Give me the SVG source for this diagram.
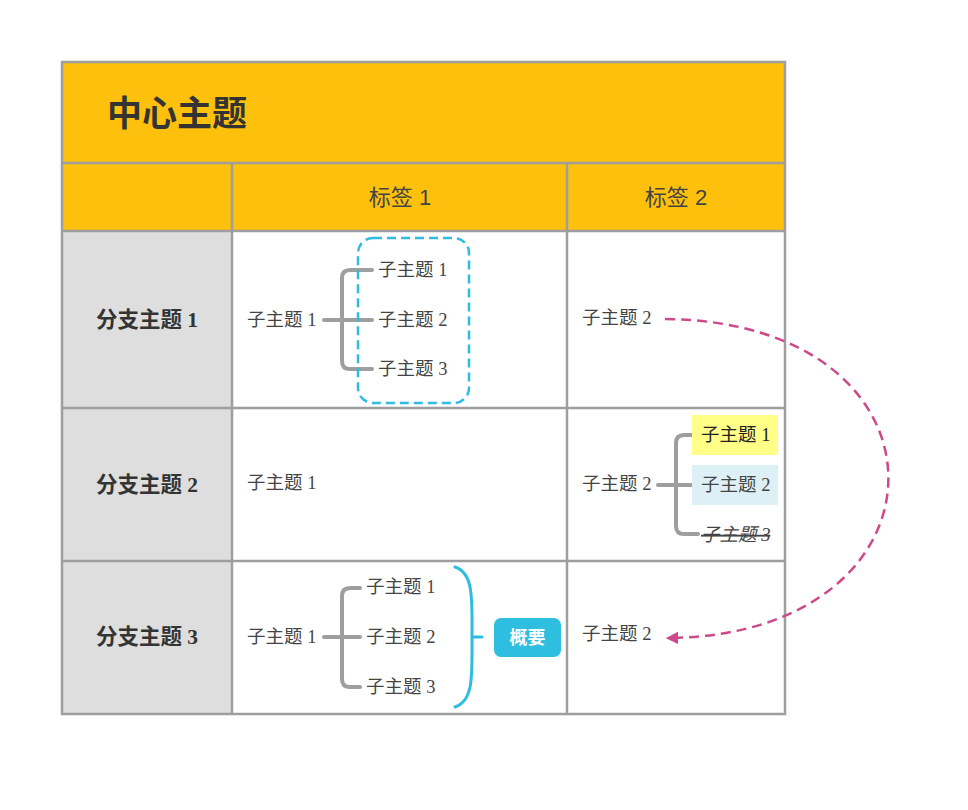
<svg xmlns="http://www.w3.org/2000/svg" width="968" height="810" viewBox="0 0 968 810">
<defs>
<style>
.grid{fill:none;stroke:#9e9e9e;stroke-width:2.5}
.hdr{fill:#fdc00d}
.side{fill:#dedede}
.sub{font-family:"Liberation Serif","Noto Sans CJK SC",serif;font-size:18.5px;fill:#444;dominant-baseline:central}
.br{font-family:"Liberation Serif","Noto Sans CJK SC",serif;font-size:21.5px;font-weight:bold;fill:#333;dominant-baseline:central;text-anchor:middle}
.lbl{font-family:"Liberation Sans","Noto Sans CJK SC",sans-serif;font-size:22px;fill:#444;dominant-baseline:central;text-anchor:middle}
.conn{fill:none;stroke:#9e9e9e;stroke-width:4;stroke-linecap:round;stroke-linejoin:round}
</style>
<marker id="ah" viewBox="0 0 10 10" refX="9" refY="5" markerWidth="5" markerHeight="5" orient="auto-start-reverse" markerUnits="strokeWidth">
<path d="M0,0 L10,5 L0,10 z" fill="#cc4a8b"/>
</marker>
</defs>
<rect x="0" y="0" width="968" height="810" fill="#fff"/>
<g id="table">
<rect x="62" y="62" width="723" height="101" class="hdr"/>
<rect x="62" y="163" width="723" height="68" class="hdr"/>
<rect x="62" y="231" width="170" height="483" class="side"/>
<rect x="232" y="231" width="553" height="483" fill="#fff"/>
<rect x="62" y="62" width="723" height="652" class="grid"/>
<line x1="62" y1="163" x2="785" y2="163" class="grid"/>
<line x1="62" y1="231" x2="785" y2="231" class="grid"/>
<line x1="62" y1="408" x2="785" y2="408" class="grid"/>
<line x1="62" y1="561" x2="785" y2="561" class="grid"/>
<line x1="232" y1="163" x2="232" y2="714" class="grid"/>
<line x1="567" y1="163" x2="567" y2="714" class="grid"/>
</g>
<g id="title"><text x="107" y="113" font-family="'Liberation Sans','Noto Sans CJK SC',sans-serif" font-size="35" font-weight="bold" fill="#333" dominant-baseline="central">中心主题</text></g>
<g id="label1"><text x="400" y="197" class="lbl">标签 1</text></g>
<g id="label2"><text x="676" y="197" class="lbl">标签 2</text></g>
<g id="branch1"><text x="147" y="320" class="br">分支主题 1</text></g>
<g id="branch2"><text x="147" y="485" class="br">分支主题 2</text></g>
<g id="branch3"><text x="147" y="637" class="br">分支主题 3</text></g>

<g id="connectors">
<path class="conn" d="M324,320 H372 M372,270 H350 Q342,270 342,278 V361 Q342,369 350,369 H372"/>
<path class="conn" d="M658,485 H692 M692,435 H684 Q676,435 676,443 V526 Q676,534 684,534 H698"/>
<path class="conn" d="M324,637 H360 M360,588 H350 Q342,588 342,596 V679 Q342,687 350,687 H360"/>
<path d="M665,319 C965,322 960,636 667,638" fill="none" stroke="#cc4a8b" stroke-width="2.5" stroke-dasharray="10,6" marker-end="url(#ah)"/>
</g>

<g id="r1c1">
<text x="247" y="320" class="sub">子主题 1</text>
</g>
<g id="r1-boundary"><rect x="358" y="238" width="111" height="165" rx="15" fill="none" stroke="#2ebde0" stroke-width="2.5" stroke-dasharray="9,5"/></g>
<g id="r1-s1"><text x="378" y="270" class="sub">子主题 1</text></g>
<g id="r1-s2"><text x="378" y="320" class="sub">子主题 2</text></g>
<g id="r1-s3"><text x="378" y="369" class="sub">子主题 3</text></g>
<g id="r1c2"><text x="582" y="318" class="sub">子主题 2</text></g>

<g id="r2c1"><text x="247" y="483" class="sub">子主题 1</text></g>
<g id="r2c2"><text x="582" y="484" class="sub">子主题 2</text></g>
<g id="r2-s1"><rect x="692" y="415" width="86" height="40" fill="#ffff88"/><text x="701" y="435" class="sub" style="fill:#222">子主题 1</text></g>
<g id="r2-s2"><rect x="692" y="465" width="86" height="40" fill="#ddf0f6"/><text x="701" y="485" class="sub">子主题 2</text></g>
<g id="r2-s3"><text x="701" y="535" class="sub" font-style="italic" text-decoration="line-through">子主题 3</text></g>

<g id="r3c1"><text x="247" y="637" class="sub">子主题 1</text></g>
<g id="r3-s1"><text x="366" y="587" class="sub">子主题 1</text></g>
<g id="r3-s2"><text x="366" y="637" class="sub">子主题 2</text></g>
<g id="r3-s3"><text x="366" y="687" class="sub">子主题 3</text></g>
<g id="r3-brace"><path d="M455,567 C474,573 472,600 472,637 C472,674 474,701 455,707 M472,637 H482" fill="none" stroke="#2ebde0" stroke-width="3" stroke-linecap="round"/></g>
<g id="summary"><rect x="494" y="618" width="67" height="39" rx="7" fill="#2ebfe0"/><text x="527.5" y="637.5" font-family="'Liberation Sans','Noto Sans CJK SC',sans-serif" font-size="18" font-weight="bold" fill="#fff" text-anchor="middle" dominant-baseline="central">概要</text></g>
<g id="r3c2"><text x="582" y="634" class="sub">子主题 2</text></g>
</svg>
